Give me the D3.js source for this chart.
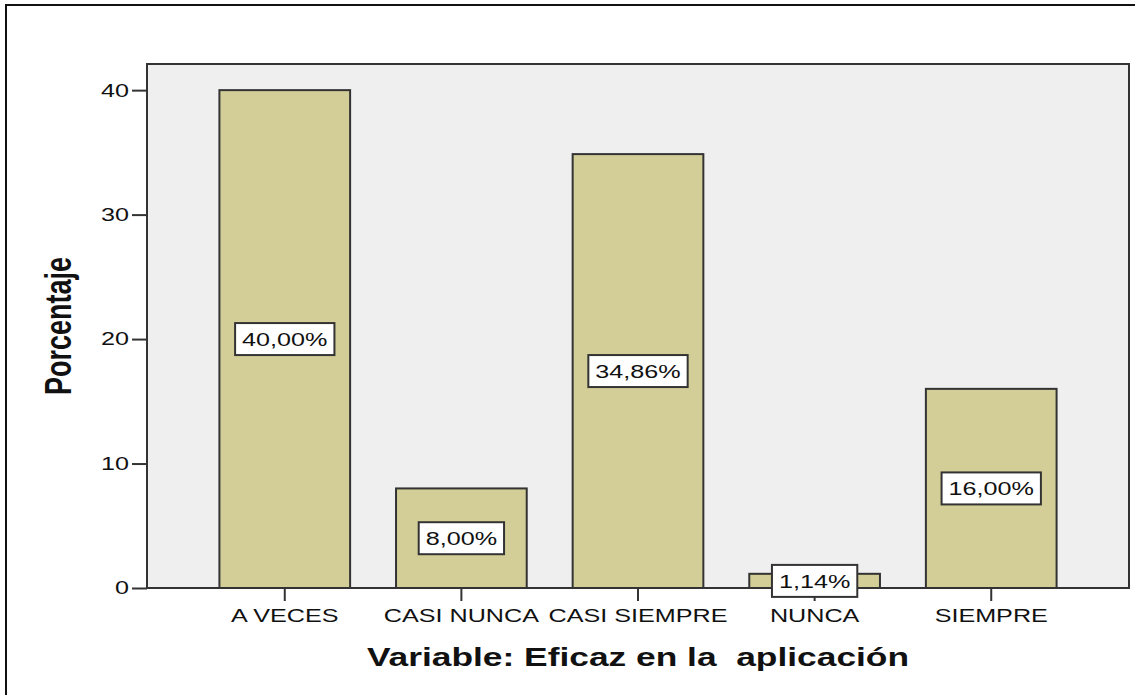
<!DOCTYPE html>
<html>
<head>
<meta charset="utf-8">
<script src="https://cdn.jsdelivr.net/npm/d3@7"></script>
<style>
  body { margin: 0; background: #fff; }
  svg { display: block; }
  text { font-family: "Liberation Sans", Arial, sans-serif; fill: #111; }
</style>
</head>
<body>
<svg id="chart" width="1135" height="695"></svg>
<script>
const categories = ["A VECES", "CASI NUNCA", "CASI SIEMPRE", "NUNCA", "SIEMPRE"];
const percentages = [40.00, 8.00, 34.86, 1.14, 16.00];
const yTicks = [0, 10, 20, 30, 40];
const yMax = 42.1;
const xTitle = "Variable: Eficaz en la  aplicación";
const yTitle = "Porcentaje";

let svg, xScale, yScale, sx;

function main() {
    svg = d3.select("#chart");
    sx = 1.36; // the original picture is stretched sideways
    let plotBox = { left: 147, top: 64, right: 1129, bottom: 588 };

    xScale = d3.scaleBand()
        .domain(categories)
        .range([plotBox.left, plotBox.right])
        .paddingInner(0.26)
        .paddingOuter(0.41);
    yScale = d3.scaleLinear()
        .domain([0, yMax])
        .range([plotBox.bottom, plotBox.top]);

    const es = d3.formatLocale({ decimal: ",", thousands: ".", grouping: [3], currency: ["", "€"] });
    const fmt = es.format(".2f");

    // outer frame (right and bottom sides fall off the picture)
    svg.append("rect")
        .attr("x", 6).attr("y", 5)
        .attr("width", 1200).attr("height", 800)
        .attr("fill", "none").attr("stroke", "#111").attr("stroke-width", 2);

    // plot background
    svg.append("rect")
        .attr("x", plotBox.left).attr("y", plotBox.top)
        .attr("width", plotBox.right - plotBox.left)
        .attr("height", plotBox.bottom - plotBox.top)
        .attr("fill", "#efefef")
        .attr("stroke", "#333").attr("stroke-width", 2);

    // bars
    svg.selectAll("rect.bar")
        .data(categories.map((c, i) => [c, percentages[i]]))
        .enter()
        .append("rect")
        .attr("class", "bar")
        .attr("x", d => xScale(d[0]))
        .attr("y", d => yScale(d[1]))
        .attr("width", xScale.bandwidth())
        .attr("height", d => yScale(0) - yScale(d[1]))
        .attr("fill", "#d3ce97")
        .attr("stroke", "#333")
        .attr("stroke-width", 2);

    // Y-axis
    let yAxisG = svg.append("g")
        .attr("transform", `translate(${plotBox.left},0)`)
        .call(d3.axisLeft(yScale).tickValues(yTicks).tickSize(15).tickFormat(d3.format("d")));
    yAxisG.select(".domain").remove();
    yAxisG.selectAll("line").attr("stroke", "#333").attr("stroke-width", 2);
    yAxisG.selectAll("text")
        .attr("x", 0)
        .attr("transform", `translate(-18,0) scale(${sx},1)`)
        .style("font-size", "18.5px")
        .style("fill", "#111");

    // X-axis
    let xAxisG = svg.append("g")
        .attr("transform", `translate(0,${plotBox.bottom})`)
        .call(d3.axisBottom(xScale).tickSize(13).tickPadding(6));
    xAxisG.select(".domain").remove();
    xAxisG.selectAll("line").attr("stroke", "#333").attr("stroke-width", 2);
    xAxisG.selectAll("text")
        .attr("y", 0).attr("dy", 0)
        .attr("transform", `translate(0,34) scale(${sx},1)`)
        .style("font-size", "18.5px")
        .style("fill", "#111");

    // value labels
    let labels = svg.selectAll("g.vlabel")
        .data(categories.map((c, i) => [c, percentages[i]]))
        .enter()
        .append("g")
        .attr("class", "vlabel")
        .attr("transform", d => `translate(${xScale(d[0]) + xScale.bandwidth() / 2}, ${(yScale(d[1]) + yScale(0)) / 2})`);
    let boxes = labels.append("rect")
        .attr("fill", "#fff")
        .attr("stroke", "#333")
        .attr("stroke-width", 2);
    let texts = labels.append("text")
        .attr("text-anchor", "middle")
        .attr("dy", "0.36em")
        .attr("transform", `scale(${sx},1)`)
        .style("font-size", "18.5px")
        .text(d => fmt(d[1]) + "%");
    texts.each(function (d, i) {
        let w = this.getComputedTextLength() * sx + 14;
        d3.select(boxes.nodes()[i])
            .attr("x", -w / 2).attr("y", -16)
            .attr("width", w).attr("height", 32);
    });

    // Axis-labels
    svg.append("text")
        .attr("transform", `translate(${(plotBox.left + plotBox.right) / 2}, 666) scale(${sx},1)`)
        .attr("text-anchor", "middle")
        .style("font-size", "26px")
        .style("font-weight", "bold")
        .style("white-space", "pre")
        .text(xTitle);

    svg.append("text")
        .attr("transform", `translate(71, ${(plotBox.top + plotBox.bottom) / 2}) scale(${sx},1) rotate(-90)`)
        .attr("text-anchor", "middle")
        .style("font-size", "27px")
        .style("font-weight", "bold")
        .text(yTitle);
}

main();
</script>
</body>
</html>
